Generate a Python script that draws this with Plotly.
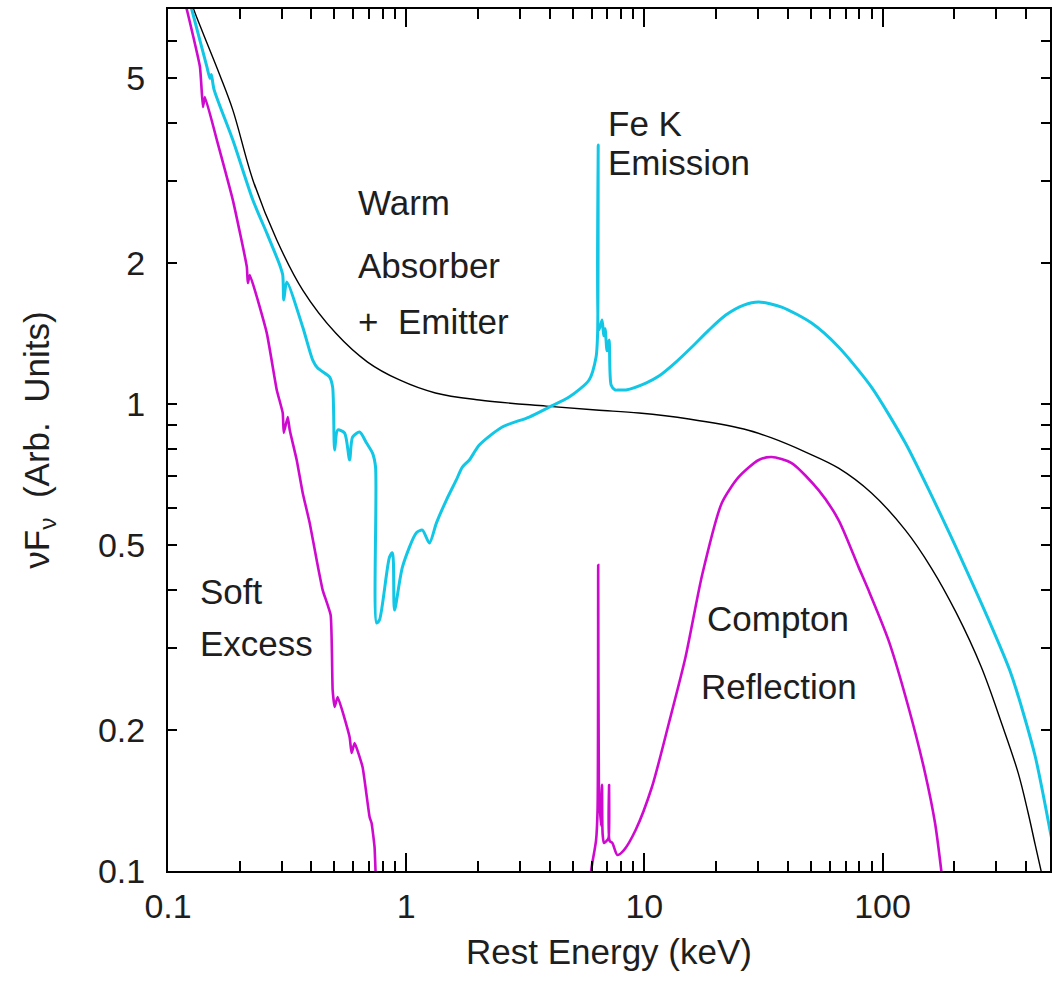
import plotly.graph_objects as go

# Underlying continuum (black)
cont_energy = [0.1213, 0.1285, 0.1402, 0.1651, 0.1872, 0.2271, 0.2862, 0.3678, 0.5057, 0.6885,
               0.9374, 1.327, 2.028, 3.871, 6.270, 9.493, 15.38, 26.14, 34.24, 47.53,
               65.37, 89.85, 124.7, 160.3, 204.0, 259.7, 317.9, 371.0, 408.6, 437.1,
               463.1, 472.0]
cont_flux = [7.62, 6.98, 6.23, 5.06, 4.26, 3.02, 2.245, 1.754, 1.419, 1.230,
             1.126, 1.056, 1.020, 0.990, 0.971, 0.957, 0.929, 0.884, 0.846, 0.789,
             0.729, 0.645, 0.537, 0.4455, 0.357, 0.2734, 0.2054, 0.1622, 0.1331, 0.1140,
             0.100, 0.0957]

# Total observed spectrum (cyan)
total_energy = [0.1213, 0.1260, 0.1457, 0.1500, 0.1520, 0.1560, 0.1872, 0.2271, 0.2599, 0.2945,
                0.3032, 0.3062, 0.3151, 0.3678, 0.4051, 0.4250, 0.4773, 0.4912, 0.5007, 0.5155,
                0.5513, 0.5786, 0.5957, 0.6374, 0.6819, 0.7224, 0.7436, 0.7508, 0.7727, 0.8511,
                0.8761, 0.8933, 0.9649, 1.104, 1.170, 1.252, 1.339, 1.475, 1.624, 1.721,
                1.842, 2.028, 2.532, 3.286, 3.984, 4.832, 5.861, 6.270, 6.360, 6.400,
                6.440, 6.645, 6.75, 6.84, 6.97, 7.11, 7.25, 7.53, 7.83, 8.373,
                10.15, 11.51, 13.57, 15.83, 18.65, 21.97, 26.14, 30.21, 37.72, 50.37,
                65.37, 89.85, 124.7, 160.3, 192.6, 214.1, 269.9, 346.7, 437.1, 510.2,
                545.7]
total_flux = [7.51, 6.98, 5.27, 4.98, 5.08, 4.72, 3.675, 2.734, 2.323, 1.985,
              1.889, 1.670, 1.825, 1.462, 1.242, 1.194, 1.142, 1.087, 0.797, 0.880,
              0.867, 0.759, 0.850, 0.871, 0.825, 0.785, 0.733, 0.340, 0.345, 0.470,
              0.480, 0.362, 0.448, 0.530, 0.537, 0.504, 0.556, 0.623, 0.688, 0.733,
              0.759, 0.817, 0.893, 0.938, 0.985, 1.035, 1.126, 1.261, 1.405, 3.585,
              1.440, 1.513, 1.40, 1.45, 1.30, 1.371, 1.098, 1.072, 1.072, 1.072,
              1.109, 1.148, 1.230, 1.325, 1.440, 1.551, 1.629, 1.654, 1.613, 1.491,
              1.325, 1.087, 0.825, 0.638, 0.524, 0.466, 0.3585, 0.264, 0.1763, 0.1188,
              0.0995]

# Soft excess component (magenta, low energies)
soft_energy = [0.1155, 0.1201, 0.1362, 0.1402, 0.1429, 0.1604, 0.1872, 0.2143, 0.2163, 0.2206,
               0.2599, 0.2862, 0.3032, 0.3062, 0.3182, 0.3244, 0.3470, 0.3678, 0.3935, 0.4209,
               0.4461, 0.4818, 0.4912, 0.5007, 0.5155, 0.5786, 0.5900, 0.6073, 0.6560, 0.7021,
               0.7156, 0.7366, 0.7436, 0.7508]
soft_flux = [7.51, 6.98, 5.27, 4.325, 4.544, 3.675, 2.734, 1.966, 1.816, 1.889,
             1.419, 1.072, 0.957, 0.867, 0.938, 0.880, 0.759, 0.645, 0.556, 0.4634,
             0.3996, 0.3533, 0.2441, 0.2245, 0.2358, 0.1936, 0.1789, 0.1879, 0.1670, 0.1305,
             0.1267, 0.1125, 0.100, 0.0911]

# Compton reflection hump with Fe K lines (magenta, high energies)
refl_energy = [5.918, 5.975, 6.270, 6.36, 6.40, 6.44, 6.50, 6.58, 6.64, 6.68,
               6.77, 6.99, 7.08, 7.11, 7.15, 7.34, 7.70, 8.21, 9.19, 10.76,
               12.68, 14.89, 17.48, 21.14, 24.91, 30.21, 34.24, 41.53, 53.89,
               65.37, 79.26, 87.28, 105.9, 128.4, 150.8, 166.1, 176.5, 180.0]
refl_flux = [0.0911, 0.100, 0.1165, 0.1351, 0.452, 0.154, 0.137, 0.125, 0.153, 0.120,
             0.1148, 0.1165, 0.118, 0.1528, 0.116, 0.1148, 0.1082, 0.1109, 0.1224, 0.1513,
             0.2075, 0.2872, 0.4304, 0.614, 0.698, 0.759, 0.770, 0.7475, 0.654,
             0.5645, 0.448, 0.3996, 0.3122, 0.2245, 0.1622, 0.1267, 0.100, 0.0911]

# Axis ticks
x_major = [0.1, 1, 10, 100]
x_major_text = ["0.1", "1", "10", "100"]
x_minor = [0.2, 0.3, 0.4, 0.5, 0.6, 0.7, 0.8, 0.9,
           2, 3, 4, 5, 6, 7, 8, 9,
           20, 30, 40, 50, 60, 70, 80, 90,
           200, 300, 400, 500]
y_labelled = [0.1, 0.2, 0.5, 1, 2, 5]
y_labelled_text = ["0.1", "0.2", "0.5", "1", "2", "5"]
y_decades = [0.1, 1]
y_minor = [0.3, 0.4, 0.6, 0.7, 0.8, 0.9, 3, 4, 6, 7]

# Component labels
labels = [
    ("Warm", 0.2127, 0.775),
    ("Absorber", 0.2127, 0.703),
    ("+\u00a0 Emitter", 0.2127, 0.637),
    ("Fe K", 0.4966, 0.8677),
    ("Emission", 0.4966, 0.8225),
    ("Soft", 0.0339, 0.3237),
    ("Excess", 0.0339, 0.2645),
    ("Compton", 0.6086, 0.2935),
    ("Reflection", 0.6018, 0.2135),
]

CYAN = "#12C6E6"
MAGENTA = "#CE0ACE"
TEXT = "#1E1E1E"
FONT = "Liberation Sans"

fig = go.Figure()
fig.add_trace(go.Scatter(x=cont_energy, y=cont_flux, mode="lines",
                         line=dict(color="black", width=1.4, shape="spline", smoothing=1.0),
                         name="Continuum"))
fig.add_trace(go.Scatter(x=soft_energy, y=soft_flux, mode="lines",
                         line=dict(color=MAGENTA, width=2.6, shape="spline", smoothing=0.4),
                         name="Soft excess"))
fig.add_trace(go.Scatter(x=refl_energy, y=refl_flux, mode="lines",
                         line=dict(color=MAGENTA, width=2.6, shape="spline", smoothing=0.7),
                         name="Compton reflection"))
fig.add_trace(go.Scatter(x=total_energy, y=total_flux, mode="lines",
                         line=dict(color=CYAN, width=3, shape="spline", smoothing=0.7),
                         name="Total"))

for text, px, py in labels:
    fig.add_annotation(text=text, x=px, y=py, xref="paper", yref="paper",
                       xanchor="left", yanchor="middle", showarrow=False,
                       font=dict(family=FONT, size=35, color=TEXT))

tick_font = dict(family=FONT, size=34, color=TEXT)
title_font = dict(family=FONT, size=35, color=TEXT)

fig.update_layout(
    width=1053, height=982, autosize=False,
    margin=dict(l=168, r=1, t=9, b=111),
    paper_bgcolor="white", plot_bgcolor="white",
    showlegend=False,
    xaxis=dict(
        type="log", range=[-1, 2.703],
        tickmode="array", tickvals=x_major, ticktext=x_major_text,
        ticks="inside", ticklen=18, tickwidth=1.6, tickcolor="black",
        showline=True, linecolor="black", linewidth=2, mirror="ticks",
        showgrid=False, zeroline=False,
        tickfont=tick_font, ticklabelstandoff=4,
        minor=dict(tickmode="array", tickvals=x_minor, ticks="inside", ticklen=10,
                   tickwidth=1.6, tickcolor="black", showgrid=False),
        title=dict(text="Rest Energy (keV)", font=title_font, standoff=16),
    ),
    yaxis=dict(
        type="log", range=[-1, 0.846],
        tickmode="array", tickvals=y_labelled, ticktext=y_labelled_text,
        ticks="inside", ticklen=9, tickwidth=1.6, tickcolor="black",
        showline=True, linecolor="black", linewidth=2, mirror="ticks",
        showgrid=False, zeroline=False,
        tickfont=tick_font, ticklabelstandoff=14,
        minor=dict(tickmode="array", tickvals=y_minor, ticks="inside", ticklen=9,
                   tickwidth=1.6, tickcolor="black", showgrid=False),
        title=dict(text="\u03bdF<sub>\u03bd</sub>\u00a0 (Arb.\u00a0 Units)",
                   font=title_font, standoff=38),
    ),
    yaxis2=dict(
        type="log", range=[-1, 0.846], overlaying="y", anchor="x", side="left",
        tickmode="array", tickvals=y_decades, showticklabels=False,
        ticks="inside", ticklen=17, tickwidth=1.6, tickcolor="black",
        showline=True, linecolor="black", linewidth=2, mirror="ticks",
        showgrid=False, zeroline=False,
    ),
)

fig.write_html("out.html")
